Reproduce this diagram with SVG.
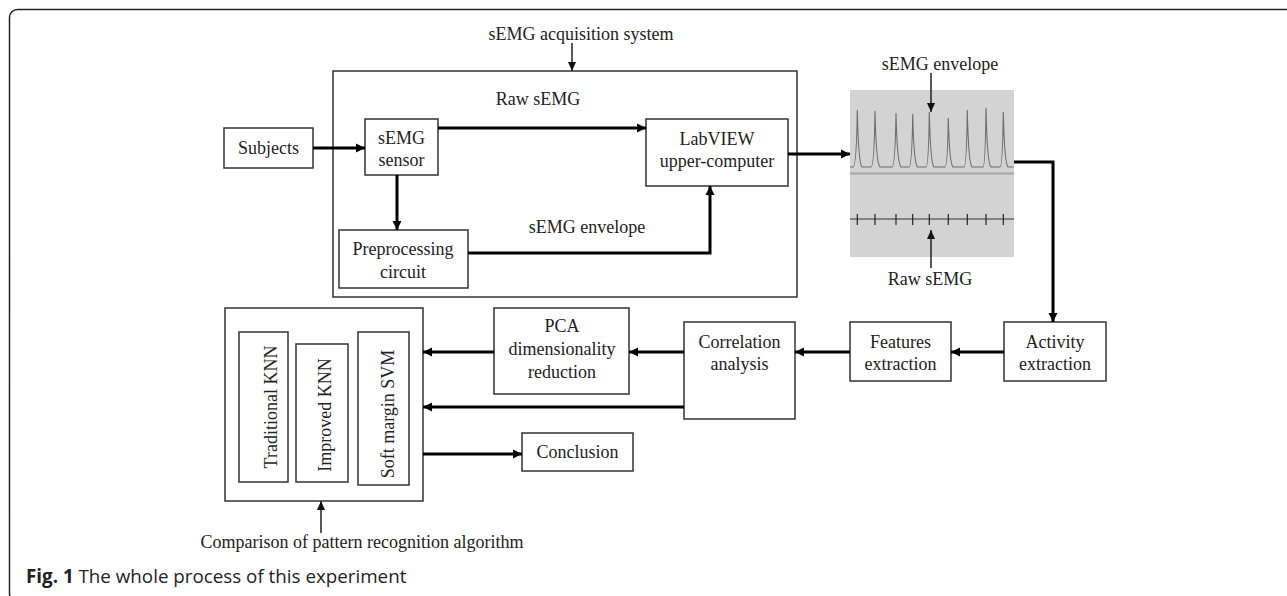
<svg xmlns="http://www.w3.org/2000/svg" width="1287" height="596" viewBox="0 0 1287 596">
<style>
.box{fill:#fff;stroke:#333;stroke-width:1.5}
.t{font-family:"Liberation Serif","Times New Roman",serif;font-size:18px;fill:#222;text-anchor:middle}
.c{fill:none;stroke:#000;stroke-width:3}
.thin{fill:none;stroke:#222;stroke-width:1.5}
</style>
<defs>
<marker id="ah" markerUnits="userSpaceOnUse" markerWidth="10" markerHeight="10" refX="9" refY="5" orient="auto">
<path d="M0,0.5 L9,5 L0,9.5 z" fill="#000"/>
</marker>
<marker id="ahs" markerUnits="userSpaceOnUse" markerWidth="10" markerHeight="10" refX="9" refY="5" orient="auto">
<path d="M0,1 L9,5 L0,9 z" fill="#111"/>
</marker>
</defs>
<rect width="1287" height="596" fill="#fff"/>
<rect x="9.5" y="9.5" width="1300" height="592" rx="8" fill="none" stroke="#222" stroke-width="1.5"/>

<g id="acquisition-system">
<rect class="box" x="333" y="71" width="464" height="226"/>
<text class="t" x="581" y="40">sEMG acquisition system</text>
<text class="t" x="538" y="105">Raw sEMG</text>
<text class="t" x="587" y="233">sEMG envelope</text>
</g>
<g id="subjects">
<rect class="box" x="224" y="128" width="89" height="40"/>
<text class="t" x="268.5" y="154">Subjects</text>
</g>
<g id="semg-sensor">
<rect class="box" x="365" y="119" width="73" height="56"/>
<text class="t" x="401.5" y="144">sEMG</text>
<text class="t" x="401.5" y="166">sensor</text>
</g>
<g id="preprocessing">
<rect class="box" x="339" y="230" width="129" height="58"/>
<text class="t" x="403" y="255">Preprocessing</text>
<text class="t" x="403" y="278">circuit</text>
</g>
<g id="labview">
<rect class="box" x="646" y="119" width="142" height="67"/>
<text class="t" x="717" y="145">LabVIEW</text>
<text class="t" x="717" y="167">upper-computer</text>
</g>
<g id="signal-image">
<rect x="850" y="90" width="164" height="167" fill="#d3d3d3"/>
<line x1="850" y1="173.5" x2="1014" y2="173.5" stroke="#a8a8a8" stroke-width="2"/>
<path fill="none" stroke="#6e6e6e" stroke-width="1.1" d="M850,167 L853,167 Q856.5,167 857.3,110 Q858.5,164 862,167 L871,167 Q874.2,167 875,111 Q876.2,164 880,167 L892,167 Q895.2,167 896,113 Q897.2,164 901,167 L909,167 Q912,167 912.7,114 Q913.9,164 917.5,167 L926,167 Q928.6,167 929.3,112 Q930.5,164 934,167 L945,167 Q947.6,167 948.3,118 Q949.5,164 953,167 L964,167 Q966.6,167 967.3,110 Q968.5,164 972,167 L983,167 Q985.3,167 986,108 Q987.2,164 991,167 L1000,167 Q1002.6,167 1003.3,112 Q1004.5,164 1008,167 L1014,167"/>
<line x1="850" y1="219" x2="1014" y2="219" stroke="#333" stroke-width="1.2"/>
<g stroke="#222" stroke-width="1.2">
<line x1="857.3" y1="214" x2="857.3" y2="225"/>
<line x1="875" y1="214" x2="875" y2="225"/>
<line x1="896" y1="214" x2="896" y2="225"/>
<line x1="912.7" y1="214" x2="912.7" y2="225"/>
<line x1="929.3" y1="214" x2="929.3" y2="225"/>
<line x1="948.3" y1="214" x2="948.3" y2="225"/>
<line x1="967.3" y1="214" x2="967.3" y2="225"/>
<line x1="986" y1="214" x2="986" y2="225"/>
<line x1="1003.3" y1="214" x2="1003.3" y2="225"/>
</g>
<text class="t" x="940" y="70">sEMG envelope</text>
<text class="t" x="930" y="285">Raw sEMG</text>
</g>
<g id="activity-extraction">
<rect class="box" x="1004" y="322" width="102" height="59"/>
<text class="t" x="1055" y="348">Activity</text>
<text class="t" x="1055" y="370">extraction</text>
</g>
<g id="features-extraction">
<rect class="box" x="850" y="322" width="101" height="59"/>
<text class="t" x="900.5" y="348">Features</text>
<text class="t" x="900.5" y="370">extraction</text>
</g>
<g id="correlation-analysis">
<rect class="box" x="684" y="322" width="111" height="97"/>
<text class="t" x="739.5" y="348">Correlation</text>
<text class="t" x="739.5" y="370">analysis</text>
</g>
<g id="pca">
<rect class="box" x="494" y="308" width="135" height="86"/>
<text class="t" x="562" y="332">PCA</text>
<text class="t" x="562" y="355">dimensionality</text>
<text class="t" x="562" y="378">reduction</text>
</g>
<g id="classifiers">
<rect class="box" x="225" y="308" width="198" height="193"/>
<text class="t" x="362" y="548">Comparison of pattern recognition algorithm</text>
</g>
<g id="traditional-knn">
<rect class="box" x="239" y="332" width="49" height="150"/>
<text class="t" x="277" y="407" transform="rotate(-90 277 407)">Traditional KNN</text>
</g>
<g id="improved-knn">
<rect class="box" x="296" y="344" width="52" height="138"/>
<text class="t" x="331" y="415" transform="rotate(-90 331 415)">Improved KNN</text>
</g>
<g id="soft-margin-svm">
<rect class="box" x="358" y="332" width="51" height="153"/>
<text class="t" x="394" y="414" transform="rotate(-90 394 414)">Soft margin SVM</text>
</g>
<g id="conclusion">
<rect class="box" x="522" y="433" width="111" height="38"/>
<text class="t" x="577.5" y="458">Conclusion</text>
</g>

<g id="connectors">
<path class="thin" d="M572,43 V71" marker-end="url(#ahs)"/>
<path class="c" d="M313,148 H365" marker-end="url(#ah)"/>
<path class="c" d="M438,128 H646" marker-end="url(#ah)"/>
<path class="c" d="M397,175 V230" marker-end="url(#ah)"/>
<path class="c" d="M468,253 H710 V186" marker-end="url(#ah)"/>
<path class="c" d="M788,154 H850" marker-end="url(#ah)"/>
<path class="c" d="M1014,162 H1053 V322" marker-end="url(#ah)"/>
<path class="c" d="M1004,352 H951" marker-end="url(#ah)"/>
<path class="c" d="M850,352 H795" marker-end="url(#ah)"/>
<path class="c" d="M684,352 H629" marker-end="url(#ah)"/>
<path class="c" d="M494,352 H423" marker-end="url(#ah)"/>
<path class="c" d="M684,407 H423" marker-end="url(#ah)"/>
<path class="c" d="M423,454 H522" marker-end="url(#ah)"/>
<path class="thin" d="M321,533 V501" marker-end="url(#ahs)"/>
<path class="thin" d="M931,73 V112" marker-end="url(#ahs)"/>
<path class="thin" d="M931,268 V230" marker-end="url(#ahs)"/>
</g>

<text x="26" y="583" font-family="'Open Sans','Liberation Sans',sans-serif" font-size="18.8" fill="#222"><tspan font-weight="bold">Fig. 1</tspan> The whole process of this experiment</text>
</svg>
